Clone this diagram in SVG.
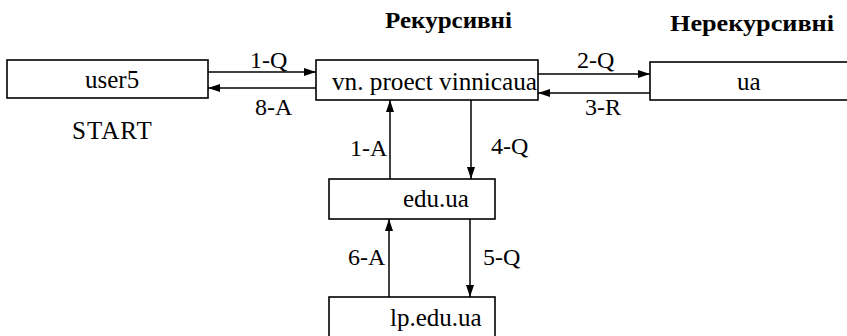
<svg xmlns="http://www.w3.org/2000/svg" width="847" height="336" viewBox="0 0 847 336">
<style>
.box{fill:#fff;stroke:#000;stroke-width:1.6}
text{font-family:'Liberation Serif','Times New Roman','DejaVu Serif',serif;fill:#000}
.t{font-size:25px}
.lbl{font-size:24px}
.h{font-size:24px;font-weight:bold}
.c{stroke:#000;stroke-width:1.5;fill:none}
</style>
<defs>
<marker id="ah" markerWidth="12" markerHeight="8" refX="12" refY="4" orient="auto" markerUnits="userSpaceOnUse">
<path d="M0,0 L12,4 L0,8 Z" fill="#000"/>
</marker>
</defs>
<text class="h" x="385" y="28" textLength="127" lengthAdjust="spacingAndGlyphs">Рекурсивні</text>
<text class="h" x="670" y="31" textLength="164" lengthAdjust="spacingAndGlyphs">Нерекурсивні</text>
<g id="user5">
<rect class="box" x="7" y="60" width="201" height="38"/>
<text class="t" x="85" y="88">user5</text>
</g>
<text class="t" x="72" y="139" letter-spacing="1">START</text>
<g id="vn">
<rect class="box" x="316" y="60" width="222" height="40"/>
<text class="t" x="332" y="90" textLength="205" lengthAdjust="spacingAndGlyphs">vn. proect vinnicaua</text>
</g>
<g id="ua">
<rect class="box" x="650" y="62" width="210" height="38"/>
<text class="t" x="737" y="90">ua</text>
</g>
<g id="edu">
<rect class="box" x="329" y="179" width="166" height="40"/>
<text class="t" x="403" y="207">edu.ua</text>
</g>
<g id="lp">
<rect class="box" x="329" y="297" width="166" height="50"/>
<text class="t" x="390" y="326">lp.edu.ua</text>
</g>
<g id="connectors">
<line class="c" x1="208" y1="72" x2="316" y2="72" marker-end="url(#ah)"/>
<line class="c" x1="316" y1="88" x2="208" y2="88" marker-end="url(#ah)"/>
<line class="c" x1="538" y1="74" x2="650" y2="74" marker-end="url(#ah)"/>
<line class="c" x1="650" y1="93" x2="538" y2="93" marker-end="url(#ah)"/>
<line class="c" x1="390" y1="179" x2="390" y2="100" marker-end="url(#ah)"/>
<line class="c" x1="471" y1="100" x2="471" y2="179" marker-end="url(#ah)"/>
<line class="c" x1="389" y1="297" x2="389" y2="219" marker-end="url(#ah)"/>
<line class="c" x1="470" y1="219" x2="470" y2="297" marker-end="url(#ah)"/>
<text class="lbl" x="250" y="68">1-Q</text>
<text class="lbl" x="255" y="115">8-A</text>
<text class="lbl" x="577" y="68">2-Q</text>
<text class="lbl" x="585" y="115">3-R</text>
<text class="lbl" x="350" y="156">1-A</text>
<text class="lbl" x="491" y="154">4-Q</text>
<text class="lbl" x="348" y="265">6-A</text>
<text class="lbl" x="483" y="265">5-Q</text>
</g>
</svg>
